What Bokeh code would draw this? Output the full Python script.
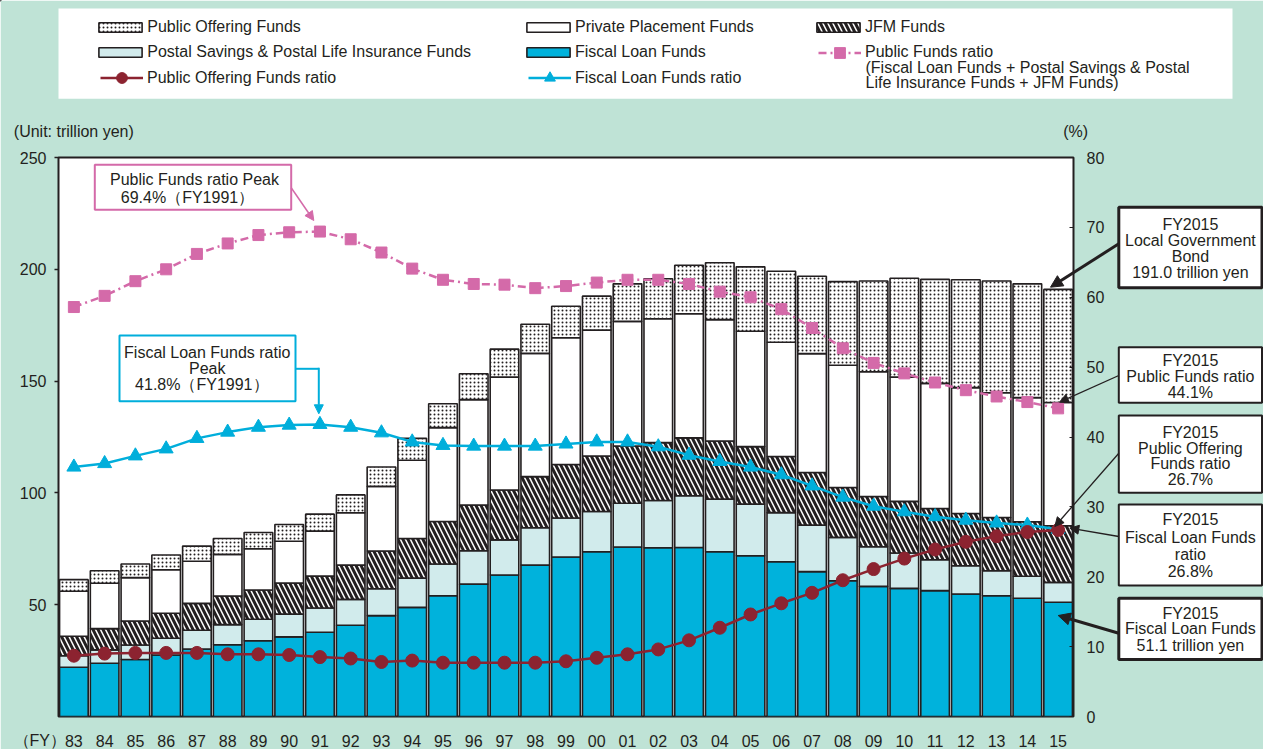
from bokeh.plotting import figure
from bokeh.models import (Range1d, LinearAxis, FixedTicker, Legend, LegendItem, Label,
                          BoxAnnotation, Arrow, NormalHead, ColumnDataSource, FactorRange,
                          GridBox)
from bokeh.transform import stack
from bokeh.embed import file_html
from bokeh.resources import INLINE

# ---------------- data ----------------
years = ["83", "84", "85", "86", "87", "88", "89", "90", "91", "92", "93", "94", "95", "96",
         "97", "98", "99", "00", "01", "02", "03", "04", "05", "06", "07", "08", "09", "10",
         "11", "12", "13", "14", "15"]
fiscal_loan = [22.0, 23.8, 25.5, 27.5, 30.2, 32.1, 33.9, 35.6, 37.7, 40.8, 45.1, 48.8, 54.0, 59.2,
               63.3, 67.7, 71.3, 73.7, 75.8, 75.5, 75.6, 73.7, 71.9, 69.2, 64.8, 60.7, 58.2, 57.3,
               56.3, 54.8, 54.0, 52.9, 51.1]
postal = [5.2, 6.0, 6.5, 7.5, 8.4, 9.0, 9.6, 10.2, 10.8, 11.6, 12.0, 13.1, 14.2, 14.9, 15.7, 16.7,
          17.5, 18.0, 19.6, 21.1, 23.1, 23.5, 23.1, 22.0, 20.8, 19.4, 17.7, 15.8, 13.8, 12.6,
          11.2, 9.8, 8.9]
jfm = [8.7, 9.5, 10.7, 11.2, 12.0, 12.8, 13.1, 13.9, 14.3, 15.3, 16.9, 17.7, 19.0, 20.5, 22.3,
       22.9, 23.9, 24.8, 25.6, 25.9, 25.9, 26.0, 25.7, 25.1, 23.5, 22.3, 22.5, 23.1, 22.9, 23.4,
       23.8, 24.4, 25.3]
private = [20.1, 20.3, 19.4, 19.4, 18.8, 18.6, 18.4, 18.7, 20.1, 23.4, 28.9, 35.0, 42.0, 47.1,
           50.5, 55.1, 56.7, 56.3, 55.7, 55.4, 55.5, 54.3, 51.6, 51.1, 53.2, 54.7, 55.8, 55.6,
           56.0, 56.3, 55.8, 55.5, 55.1]
public_offering = [5.2, 5.6, 6.1, 6.6, 6.8, 7.1, 7.3, 7.5, 7.6, 8.0, 8.7, 9.8, 10.7, 11.6, 12.5,
                   13.0, 14.1, 15.2, 16.8, 17.9, 21.7, 25.4, 28.8, 31.7, 34.6, 37.4, 40.6, 44.2,
                   46.5, 48.2, 50.0, 50.9, 50.6]
public_funds_ratio = [58.6, 60.2, 62.3, 64.0, 66.2, 67.7, 68.9, 69.3, 69.4, 68.3, 66.4, 64.1, 62.5,
                      61.9, 61.8, 61.3, 61.6, 62.1, 62.5, 62.5, 61.9, 60.8, 60.0, 58.3, 55.6, 52.7,
                      50.6, 49.1, 47.8, 46.7, 45.8, 45.0, 44.1]
fiscal_loan_ratio = [35.7, 36.2, 37.3, 38.3, 39.8, 40.7, 41.4, 41.7, 41.8, 41.4, 40.6, 39.3, 38.8,
                     38.7, 38.7, 38.7, 39.0, 39.3, 39.3, 38.6, 37.4, 36.5, 35.7, 34.6, 33.0, 31.4,
                     30.1, 29.3, 28.6, 28.1, 27.7, 27.4, 26.8]
public_offering_ratio = [8.7, 9.0, 9.1, 9.1, 9.1, 8.9, 8.9, 8.8, 8.5, 8.3, 7.8, 8.0, 7.7, 7.7, 7.7,
                         7.7, 7.9, 8.4, 8.9, 9.6, 10.9, 12.7, 14.6, 16.2, 17.7, 19.5, 21.1, 22.6,
                         23.9, 25.0, 25.8, 26.4, 26.7]
left_ticks = [50, 100, 150, 200, 250]
right_ticks = [0, 10, 20, 30, 40, 50, 60, 70, 80]

# ---------------- styling ----------------
BG = "#BFE3D6"
TXT = "#231F20"
EDGE = "#231F20"
BLUE = "#00B2DC"
LIGHT = "#D1EBEC"
PINK = "#D46AA9"
CYAN = "#00AEDB"
DRED = "#8C2330"
FONT = "Liberation Sans"

W, H = 1263, 749
F_LEFT, F_RIGHT, F_TOP, F_BOTTOM = 58, 1073, 157, 717   # plot frame on the page

BAR_STYLES = [dict(fill_color=BLUE),
              dict(fill_color=LIGHT),
              dict(fill_color="white", hatch_pattern="\\", hatch_color=EDGE, hatch_weight=3,
                   hatch_scale=10),
              dict(fill_color="white"),
              dict(fill_color="white", hatch_pattern=".", hatch_color=EDGE, hatch_weight=0.3,
                   hatch_scale=4)]

# ================= main chart =================
src = ColumnDataSource(dict(year=years, fiscal=fiscal_loan, postal=postal, jfm=jfm,
                            private=private, public=public_offering, pfr=public_funds_ratio,
                            flr=fiscal_loan_ratio, por=public_offering_ratio))

p = figure(width=W, height=H, x_range=FactorRange(*years), y_range=Range1d(0, 250),
           output_backend="svg", toolbar_location=None,
           min_border_left=F_LEFT, min_border_right=W - F_RIGHT, min_border_top=F_TOP,
           min_border_bottom=H - F_BOTTOM, background_fill_color="white", border_fill_color=BG,
           outline_line_color=EDGE, outline_line_width=2)
p.frame_align = False
p.grid.visible = False
p.extra_y_ranges = {"pct": Range1d(0, 80)}

p.xaxis.major_tick_line_color = None
p.xaxis.axis_line_color = None
p.xaxis.major_label_text_font_size = "16px"
p.xaxis.major_label_text_font = FONT
p.xaxis.major_label_text_color = TXT
p.xaxis.major_label_standoff = 12

ya = p.yaxis[0]
ya.ticker = FixedTicker(ticks=left_ticks)
ya.axis_line_color = None
ya.major_tick_in = 0
ya.major_tick_out = 4
ya.major_tick_line_color = EDGE
ya.major_tick_line_width = 1.5
ya.minor_tick_line_color = None
ya.major_label_standoff = 8
ya.major_label_text_font_size = "16px"
ya.major_label_text_font = FONT
ya.major_label_text_color = TXT

ra = LinearAxis(y_range_name="pct", ticker=FixedTicker(ticks=right_ticks))
ra.axis_line_color = None
ra.major_tick_in = 4
ra.major_tick_out = 0
ra.major_tick_line_color = EDGE
ra.major_tick_line_width = 1
ra.minor_tick_line_color = None
ra.major_label_standoff = 13
ra.major_label_text_font_size = "16px"
ra.major_label_text_font = FONT
ra.major_label_text_color = TXT
p.add_layout(ra, "right")

cols = ["fiscal", "postal", "jfm", "private", "public"]
for i, c in enumerate(cols):
    bottom = stack(*cols[:i]) if i > 0 else 0
    p.vbar(x="year", width=0.93, bottom=bottom, top=stack(*cols[:i + 1]), source=src,
           line_color=EDGE, line_width=1.6, **BAR_STYLES[i])

p.line(x="year", y="pfr", source=src, y_range_name="pct", line_color=PINK, line_width=2.5,
       line_dash="8 4 2 4")
p.scatter(x="year", y="pfr", source=src, y_range_name="pct", marker="square", size=11,
          fill_color=PINK, line_color=PINK)
p.line(x="year", y="flr", source=src, y_range_name="pct", line_color=CYAN, line_width=2.5)
p.scatter(x="year", y="flr", source=src, y_range_name="pct", marker="triangle", size=14,
          fill_color=CYAN, line_color=CYAN)
p.line(x="year", y="por", source=src, y_range_name="pct", line_color=DRED, line_width=2.5)
p.scatter(x="year", y="por", source=src, y_range_name="pct", marker="circle", size=13,
          fill_color=DRED, line_color=DRED)

# ================= overlay for legend and call-outs (page pixel coordinates) =================
ov = figure(width=W, height=H, x_range=Range1d(0, W), y_range=Range1d(H, 0),
            x_axis_type=None, y_axis_type=None, output_backend="svg", toolbar_location=None,
            min_border=0, min_border_left=0, min_border_right=0, min_border_top=0,
            min_border_bottom=0, outline_line_color=None, background_fill_alpha=0,
            border_fill_alpha=0)
ov.frame_align = False


def box(x0, x1, y0, y1, color, lw, fill="white"):
    ov.add_layout(BoxAnnotation(left=x0, right=x1, top=y0, bottom=y1, fill_color=fill,
                                fill_alpha=1, line_color=color, line_width=lw, line_alpha=1))


def text(t, X, Y, align="center"):
    ov.add_layout(Label(x=X, y=Y, text=t, text_align=align, text_baseline="middle",
                        text_font=FONT, text_font_size="16px", text_color=TXT))


def arrow(x0, y0, x1, y1, color, lw, head=9, has_head=True):
    end = NormalHead(size=head, fill_color=color, line_color=color, line_width=1) if has_head else None
    ov.add_layout(Arrow(x_start=x0, y_start=y0, x_end=x1, y_end=y1, line_color=color,
                        line_width=lw, end=end))


# legend background
box(58, 1232, 8, 98.3, None, 0)

# legend proxies: one point far outside the overlay's visible area
proxy_src = ColumnDataSource(dict(x=[-5000], y=[-5000]))
proxy_bars = [ov.vbar(x="x", top="y", bottom=-5001, width=1, source=proxy_src, line_color=EDGE,
                      line_width=1.6, **s) for s in BAR_STYLES]
proxy_pf = [ov.line(x="x", y="y", source=proxy_src, line_color=PINK, line_width=2.5,
                    line_dash="8 4 2 4"),
            ov.scatter(x="x", y="y", source=proxy_src, marker="square", fill_color=PINK,
                       line_color=PINK)]
proxy_fl = [ov.line(x="x", y="y", source=proxy_src, line_color=CYAN, line_width=2.5),
            ov.scatter(x="x", y="y", source=proxy_src, marker="triangle", fill_color=CYAN,
                       line_color=CYAN)]
proxy_po = [ov.line(x="x", y="y", source=proxy_src, line_color=DRED, line_width=2.5),
            ov.scatter(x="x", y="y", source=proxy_src, marker="circle", fill_color=DRED,
                       line_color=DRED)]


def legend_item(label, renderers, X, Y, kind):
    if kind == "rect":
        gw, gh, lh, st, x0 = 54, 12, 18, 0, X - 5.4
    else:
        gw, gh, lh, st, x0 = 43, 27, 27, 4, X
    item_h = max(gh, lh)
    top_y = Y - item_h / 2.0
    lg = Legend(items=[LegendItem(label=label, renderers=renderers)],
                location=(x0, H - (top_y + item_h)), glyph_width=gw, glyph_height=gh,
                label_height=lh, label_standoff=st, padding=0, margin=0, spacing=0,
                border_line_color=None, background_fill_alpha=0,
                label_text_font_size="16px", label_text_font=FONT, label_text_color=TXT)
    ov.add_layout(lg)


legend_item("Public Offering Funds", [proxy_bars[4]], 98.7, 26.7, "rect")
legend_item("Postal Savings & Postal Life Insurance Funds", [proxy_bars[1]], 98.7, 52.3, "rect")
legend_item("Public Offering Funds ratio", proxy_po, 100, 77.7, "line")
legend_item("Private Placement Funds", [proxy_bars[3]], 526.4, 26.7, "rect")
legend_item("Fiscal Loan Funds", [proxy_bars[0]], 526.4, 52.3, "rect")
legend_item("Fiscal Loan Funds ratio", proxy_fl, 528, 77.7, "line")
legend_item("JFM Funds", [proxy_bars[2]], 816.4, 26.7, "rect")
legend_item("Public Funds ratio", proxy_pf, 818, 52.3, "line")

text("(Fiscal Loan Funds + Postal Savings & Postal", 865, 67.3, align="left")
text("Life Insurance Funds + JFM Funds)", 865, 81.7, align="left")
text("(Unit: trillion yen)", 13.3, 130.7, align="left")
text("(%)", 1062.7, 130.7, align="left")
text("（FY）", 13, 740, align="left")

# peak call-outs
box(94.3, 290.7, 164.3, 209.3, PINK, 2)
text("Public Funds ratio Peak", 194, 179.3)
text("69.4%（FY1991）", 187, 197.3)
arrow(290.7, 187.3, 313.3, 220, PINK, 1.5, head=9)

box(119, 295, 335, 400.7, CYAN, 2)
text("Fiscal Loan Funds ratio", 206.7, 352.3)
text("Peak", 206.7, 368.3)
text("41.8%（FY1991）", 201.3, 384.3)
arrow(295, 368.3, 318.3, 368.3, CYAN, 2, has_head=False)
arrow(318.3, 367.3, 318.3, 413.3, CYAN, 2, head=9)

# FY2015 call-outs
BX0, BX1 = 1118.3, 1261.5
BXC = (BX0 + BX1) / 2.0
callouts = [
    (206.7, 287.3, 3, [("FY2015", 224.3), ("Local Government", 240), ("Bond", 255.7),
                       ("191.0 trillion yen", 272.3)], (243.3, 1050, 286.7)),
    (346.7, 402.3, 2, [("FY2015", 360), ("Public Funds ratio", 375.7), ("44.1%", 391.7)],
     (375, 1059, 401.7)),
    (415, 492.3, 2, [("FY2015", 431.7), ("Public Offering", 447.7), ("Funds ratio", 463.3),
                     ("26.7%", 479.3)], (452.7, 1054.3, 526)),
    (504, 585, 2, [("FY2015", 519.3), ("Fiscal Loan Funds", 536.7), ("ratio", 554.3),
                   ("26.8%", 571)], (536, 1069.3, 527.7)),
    (597.7, 659, 3, [("FY2015", 612.7), ("Fiscal Loan Funds", 628.3),
                     ("51.1 trillion yen", 645)], (632.7, 1057.7, 615)),
]
for y0, y1, lw, lines, (ay, ex, ey) in callouts:
    box(BX0, BX1, y0, y1, EDGE, lw)
    for t, ly in lines:
        text(t, BXC, ly)
    thick = lw >= 3
    arrow(BX0, ay, ex, ey, EDGE, 3 if thick else 1.3, head=12 if thick else 9)

layout = GridBox(children=[(p, 0, 0), (ov, 0, 0)])
open("out.html", "w").write(file_html(layout, INLINE, title="Local Government Bond funds"))
